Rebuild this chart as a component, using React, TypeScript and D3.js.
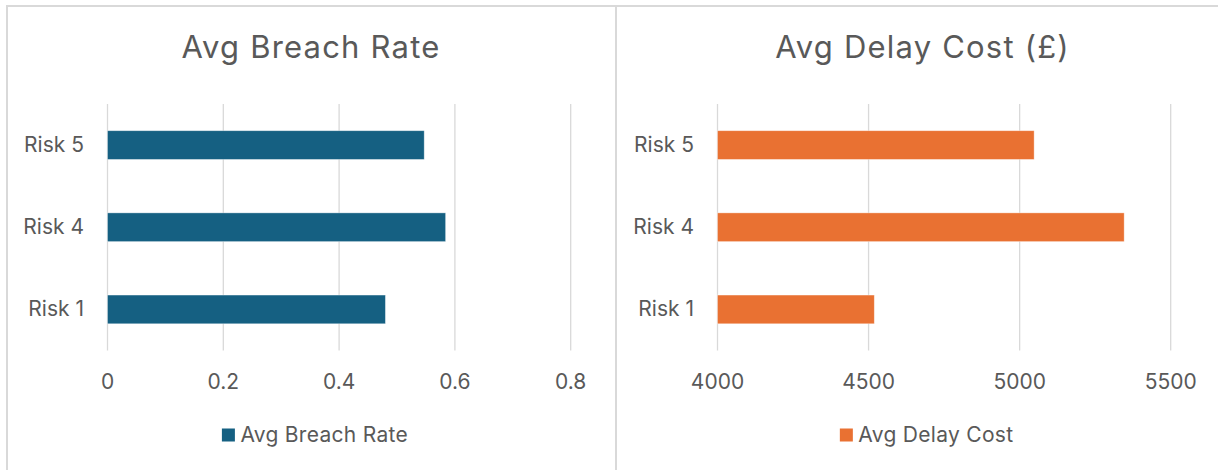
import React, { useLayoutEffect, useRef, useState } from "react";
import * as d3 from "d3";

const categories = ["Risk 5", "Risk 4", "Risk 1"];
const breachRate = [0.547, 0.584, 0.48];
const delayCost = [5048, 5346, 4519];
const breachTicks = [0, 0.2, 0.4, 0.6, 0.8];
const costTicks = [4000, 4500, 5000, 5500];
const breachTickLabels = ["0", "0.2", "0.4", "0.6", "0.8"];
const costTickLabels = ["4000", "4500", "5000", "5500"];

const W = 1218;
const H = 470;
const TEXT = "#595959";
const GRID = "#d9d9d9";
const FONT = "Inter, 'Open Sans', sans-serif";

const panels = [
  {
    title: "Avg Breach Rate",
    legend: "Avg Breach Rate",
    values: breachRate,
    ticks: breachTicks,
    tickLabels: breachTickLabels,
    domain: [0, 0.8],
    color: "#156082",
    center: 311,
    x0: 107.5,
    x1: 570.7,
  },
  {
    title: "Avg Delay Cost (£)",
    legend: "Avg Delay Cost",
    values: delayCost,
    ticks: costTicks,
    tickLabels: costTickLabels,
    domain: [4000, 5500],
    color: "#E97132",
    center: 922.6,
    x0: 717.5,
    x1: 1170.7,
  },
];

const plotTop = 104;
const plotBottom = 350.5;

function Panel({ p }: { p: (typeof panels)[number] }) {
  const textRef = useRef<SVGTextElement>(null);
  const [tw, setTw] = useState(160);
  useLayoutEffect(() => {
    if (textRef.current) setTw(textRef.current.getComputedTextLength());
  }, []);
  const x = d3.scaleLinear().domain(p.domain).range([p.x0, p.x1]);
  const y = d3
    .scaleBand<string>()
    .domain(categories)
    .range([plotTop, plotBottom])
    .paddingInner(0.65)
    .paddingOuter(0.325);
  const sq = 13;
  const gap = 5.5;
  const total = sq + gap + tw;
  const lx = p.center + 4 - total / 2;
  return (
    <g>
      <text
        x={p.center}
        y={57.5}
        textAnchor="middle"
        fontSize={31}
        letterSpacing={1.2}
        fill={TEXT}
      >
        {p.title}
      </text>
      {p.ticks.map((t, i) => (
        <g key={i}>
          <line
            x1={x(t)}
            x2={x(t)}
            y1={plotTop}
            y2={plotBottom}
            stroke={GRID}
            strokeWidth={1.3}
          />
          <text
            x={x(t)}
            y={388.5}
            textAnchor="middle"
            fontSize={21}
            fill={TEXT}
          >
            {p.tickLabels[i]}
          </text>
        </g>
      ))}
      {categories.map((c, i) => {
        const yy = y(c)!;
        const bw = y.bandwidth();
        return (
          <g key={c}>
            <rect
              x={x(p.domain[0])}
              y={yy}
              width={x(p.values[i]) - x(p.domain[0])}
              height={bw}
              fill={p.color}
              stroke="#ffffff"
              strokeOpacity={0.5}
              strokeWidth={0.75}
            />
            <text
              x={x(p.domain[0]) - 23.5}
              y={yy + bw / 2 + 6.8}
              textAnchor="end"
              fontSize={21}
              fill={TEXT}
            >
              {c}
            </text>
          </g>
        );
      })}
      <rect x={lx} y={428.5} width={sq} height={sq} fill={p.color} />
      <text
        ref={textRef}
        x={lx + sq + gap}
        y={442}
        fontSize={21}
        letterSpacing={0.3}
        fill={TEXT}
      >
        {p.legend}
      </text>
    </g>
  );
}

export default function App() {
  return (
    <svg
      width={W}
      height={H}
      style={{ position: "absolute", left: 0, top: 0, background: "#fff" }}
      fontFamily={FONT}
    >
      <rect x={0} y={0} width={W} height={H} fill="#fff" />
      <line x1={6} x2={W} y1={6} y2={6} stroke={GRID} strokeWidth={2} />
      <line x1={7} x2={7} y1={5} y2={H} stroke={GRID} strokeWidth={2} />
      <line x1={616} x2={616} y1={5} y2={H} stroke={GRID} strokeWidth={2} />
      {panels.map((p, i) => (
        <Panel key={i} p={p} />
      ))}
    </svg>
  );
}
